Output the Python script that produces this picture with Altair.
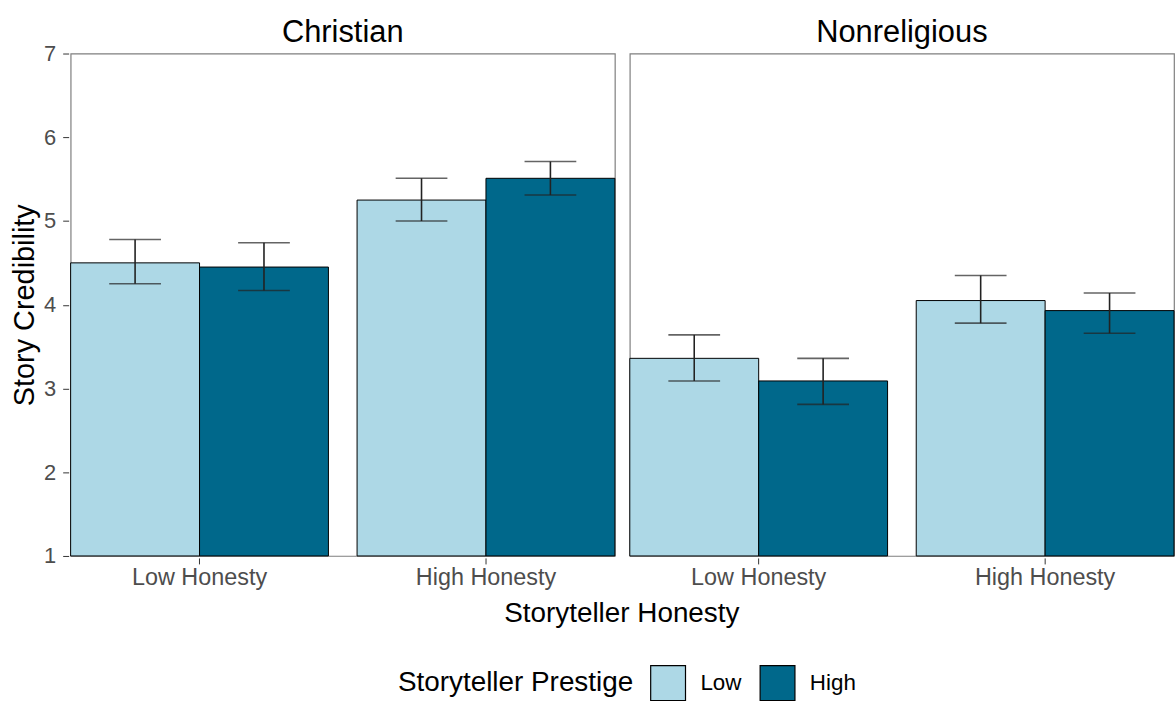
import altair as alt
import pandas as pd

religion = ["Christian"] * 4 + ["Nonreligious"] * 4
honesty = ["Low Honesty", "Low Honesty", "High Honesty", "High Honesty"] * 2
prestige = ["Low", "High"] * 4
means = [4.50, 4.45, 5.25, 5.51, 3.36, 3.09, 4.05, 3.93]
lower = [4.25, 4.17, 5.00, 5.31, 3.09, 2.81, 3.78, 3.66]
upper = [4.78, 4.74, 5.51, 5.71, 3.64, 3.36, 4.35, 4.14]

df = pd.DataFrame({
    "religion": religion, "honesty": honesty, "prestige": prestige,
    "mean": means, "lower": lower, "upper": upper,
})

FONT = "Liberation Sans"
hon_order = ["Low Honesty", "High Honesty"]
pre_order = ["Low", "High"]

x = alt.X("honesty:N", sort=hon_order,
          scale=alt.Scale(paddingInner=0.1, paddingOuter=0),
          axis=alt.Axis(title=None, labelAngle=0, labelFontSize=23.5, labelColor="#4d4d4d",
                        labelFont=FONT, domain=False, tickColor="#333333", tickSize=6,
                        labelPadding=2))
xo = alt.XOffset("prestige:N", sort=pre_order, scale=alt.Scale(paddingInner=0, paddingOuter=0))
yscale = alt.Scale(domain=[1, 7], zero=False, nice=False)

bars = alt.Chart().mark_bar(stroke="black", strokeWidth=1).encode(
    x=x, xOffset=xo,
    y=alt.Y("mean:Q", scale=yscale,
            axis=alt.Axis(title="Story Credibility", values=[1, 2, 3, 4, 5, 6, 7], format="d",
                          labelFontSize=22, labelColor="#4d4d4d", labelFont=FONT,
                          titleFontSize=29, titleFont=FONT, titleFontWeight="normal",
                          titleColor="black", domain=False, grid=False,
                          tickColor="#333333", tickSize=6, labelPadding=7, titlePadding=4)),
    y2=alt.datum(1),
    color=alt.Color("prestige:N", sort=pre_order,
                    scale=alt.Scale(domain=pre_order, range=["#ADD8E6", "#00688B"]),
                    legend=alt.Legend(title="Storyteller Prestige", orient="none",
                                      legendX=329, legendY=614,
                                      direction="horizontal", titleOrient="left",
                                      titleLimit=500,
                                      symbolType="square", symbolSize=1225,
                                      symbolStrokeColor="black", symbolStrokeWidth=1.2,
                                      titleFontSize=28, titleFont=FONT,
                                      titleFontWeight="normal", titleColor="black",
                                      titleBaseline="middle",
                                      labelFontSize=22.5, labelFont=FONT, labelColor="black",
                                      labelOffset=14, columnPadding=15, titlePadding=16)),
)

rules = alt.Chart().mark_rule(color="#222222", strokeWidth=1.6).encode(
    x=x, xOffset=xo, y=alt.Y("lower:Q", scale=yscale), y2="upper:Q",
)
tick_lo = alt.Chart().mark_tick(color="#222222", thickness=1.6, size=52).encode(
    x=x, xOffset=xo, y=alt.Y("lower:Q", scale=yscale),
)
tick_hi = alt.Chart().mark_tick(color="#222222", thickness=1.6, size=52).encode(
    x=x, xOffset=xo, y=alt.Y("upper:Q", scale=yscale),
)

layer = alt.layer(bars, rules, tick_lo, tick_hi, data=df).properties(width=547, height=505)

chart = layer.facet(
    column=alt.Column("religion:N", sort=["Christian", "Nonreligious"],
                      header=alt.Header(title="Storyteller Honesty", titleOrient="bottom",
                                        labelOrient="top", labelFontSize=31, labelFont=FONT,
                                        labelColor="black", labelPadding=4,
                                        titleFontSize=28, titleFont=FONT,
                                        titleFontWeight="normal", titleColor="black",
                                        titlePadding=0)),
    spacing=11,
).properties(padding={"left": 10, "top": 15, "right": 0, "bottom": 0}).configure_view(
    stroke="#7f7f7f", strokeWidth=1.2
)

chart.save("out.html", embed_options={"renderer": "svg", "actions": False})
